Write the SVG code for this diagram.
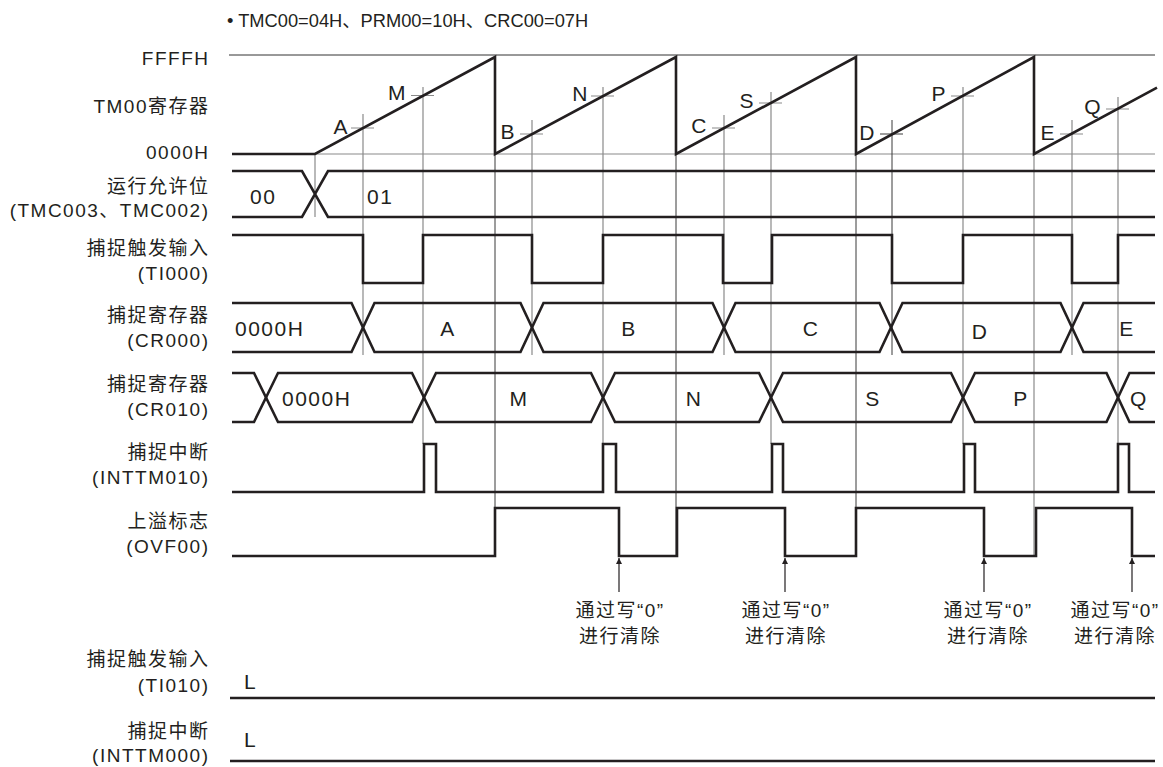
<svg xmlns="http://www.w3.org/2000/svg" width="1163" height="767" viewBox="0 0 1163 767">
<style>
  .lbl{font-family:"Liberation Sans","Noto Sans CJK SC",sans-serif;font-size:19px;letter-spacing:1.5px;fill:#231f20;text-anchor:end}
  .t{font-family:"Liberation Sans","Noto Sans CJK SC",sans-serif;font-size:21px;letter-spacing:1.5px;fill:#231f20}
  .n{font-family:"Liberation Sans","Noto Sans CJK SC",sans-serif;font-size:19px;letter-spacing:1.5px;fill:#231f20;text-anchor:middle}
  .c{text-anchor:middle}
  .e{text-anchor:end}
  .sig{fill:none;stroke:#231f20;stroke-width:2.6;stroke-linejoin:miter}
  .thin{fill:none;stroke:#333;stroke-width:1}
  .grid{fill:none;stroke:#8a8a8a;stroke-width:1.2}
  .drop{fill:none;stroke:#3a3a3a;stroke-width:1}
  .arr{fill:none;stroke:#231f20;stroke-width:1.2}
</style>
<defs>
  <marker id="ah" viewBox="0 0 10 10" refX="10" refY="5" markerWidth="12" markerHeight="6" markerUnits="userSpaceOnUse" orient="auto">
    <path d="M0,0 L10,5 L0,10 z" fill="#231f20"/>
  </marker>
</defs>
<rect width="1163" height="767" fill="#fff"/>

<text x="227" y="27" font-family="Liberation Sans, Noto Sans CJK SC, sans-serif" font-size="18.3" fill="#231f20">• TMC00=04H、PRM00=10H、CRC00=07H</text>

<!-- left labels -->
<g id="labels">
  <text class="lbl" x="209.5" y="65">FFFFH</text>
  <text class="lbl" x="209.5" y="113">TM00寄存器</text>
  <text class="lbl" x="209.5" y="159">0000H</text>
  <text class="lbl" x="209.5" y="193">运行允许位</text>
  <text class="lbl" x="209.5" y="217">(TMC003、TMC002)</text>
  <text class="lbl" x="209.5" y="255">捕捉触发输入</text>
  <text class="lbl" x="209.5" y="280">(TI000)</text>
  <text class="lbl" x="209.5" y="322">捕捉寄存器</text>
  <text class="lbl" x="209.5" y="347">(CR000)</text>
  <text class="lbl" x="209.5" y="391">捕捉寄存器</text>
  <text class="lbl" x="209.5" y="416">(CR010)</text>
  <text class="lbl" x="209.5" y="459">捕捉中断</text>
  <text class="lbl" x="209.5" y="484">(INTTM010)</text>
  <text class="lbl" x="209.5" y="528">上溢标志</text>
  <text class="lbl" x="209.5" y="553">(OVF00)</text>
  <text class="lbl" x="209.5" y="666">捕捉触发输入</text>
  <text class="lbl" x="209.5" y="692">(TI010)</text>
  <text class="lbl" x="209.5" y="738">捕捉中断</text>
  <text class="lbl" x="209.5" y="762">(INTTM000)</text>
</g>

<!-- guide lines -->
<g id="guides">
  <line class="thin" x1="229" y1="55" x2="1155" y2="55"/>
  <line class="grid" x1="315" y1="154" x2="1155" y2="154"/>
  <line class="grid" x1="315" y1="154" x2="315" y2="217"/>
  <line class="drop" x1="495" y1="57" x2="495" y2="556"/>
  <line class="drop" x1="676" y1="57" x2="676" y2="556"/>
  <line class="drop" x1="856" y1="57" x2="856" y2="556"/>
  <line class="grid" x1="1034" y1="57" x2="1034" y2="556"/>
  <!-- capture crosses (CR000: A B C D E) -->
  <path class="grid" d="M363,114 V355 M351,128 H374"/>
  <path class="grid" d="M532,120 V355 M520,134 H543"/>
  <path class="grid" d="M724,115 V355 M712,128 H735"/>
  <path class="drop" d="M892,120 V355 M880,134 H903"/>
  <path class="grid" d="M1072,120 V355 M1060,134 H1083"/>
  <!-- capture crosses (CR010: M N S P Q) -->
  <path class="grid" d="M423,87 V444 M411,95.5 H434"/>
  <path class="grid" d="M603,87 V444 M591,96 H614"/>
  <path class="grid" d="M771,92 V444 M759,103 H782"/>
  <path class="grid" d="M963,87 V444 M951,96 H974"/>
  <path class="grid" d="M1118,97 V444 M1106,109 H1129"/>
</g>

<!-- TM00 counter -->
<g id="tm00">
  <path class="sig" d="M232,154 H315 L495,57 V154 L676,57 V154 L856,57 V154 L1034,57 V154 L1157,87.6"/>
  <text class="t e" x="349" y="134">A</text>
  <text class="t e" x="407" y="100">M</text>
  <text class="t e" x="516" y="139">B</text>
  <text class="t e" x="589" y="101">N</text>
  <text class="t e" x="708" y="133">C</text>
  <text class="t e" x="755" y="108">S</text>
  <text class="t e" x="876" y="140">D</text>
  <text class="t e" x="947" y="101">P</text>
  <text class="t e" x="1056" y="140">E</text>
  <text class="t e" x="1102" y="114">Q</text>
</g>

<!-- enable bits -->
<g id="enable">
  <path class="sig" d="M232,171 H302 L328,217 H1155 M232,217 H302 L328,171 H1155"/>
  <text class="t" x="250" y="204">00</text>
  <text class="t" x="367" y="204">01</text>
</g>

<!-- TI000 -->
<g id="ti000">
  <path class="sig" d="M232,235 H363 V283 H423 V235 H532 V283 H603 V235 H723 V283 H772 V235 H892 V283 H963 V235 H1072 V283 H1118 V235 H1155"/>
</g>

<!-- CR000 -->
<g id="cr000">
  <path class="sig" d="M232,303 H351.5 L363,327.5 L351.5,352 H232"/>
  <path class="sig" d="M363,327.5 L374.5,303 H520.5 L532,327.5 L520.5,352 H374.5 Z"/>
  <path class="sig" d="M532,327.5 L543.5,303 H712.5 L724,327.5 L712.5,352 H543.5 Z"/>
  <path class="sig" d="M724,327.5 L735.5,303 H879.5 L891,327.5 L879.5,352 H735.5 Z"/>
  <path class="sig" d="M891,327.5 L902.5,303 H1060.5 L1072,327.5 L1060.5,352 H902.5 Z"/>
  <path class="sig" d="M1155,303 H1083.5 L1072,327.5 L1083.5,352 H1155"/>
  <text class="t" x="235" y="336">0000H</text>
  <text class="t c" x="448" y="336">A</text>
  <text class="t c" x="629" y="336">B</text>
  <text class="t c" x="811" y="336">C</text>
  <text class="t c" x="980" y="339">D</text>
  <text class="t c" x="1127" y="336">E</text>
</g>

<!-- CR010 -->
<g id="cr010">
  <path class="sig" d="M232,373 H254 L266,397.5 L254,422 H232"/>
  <path class="sig" d="M266,397.5 L278,373 H412 L424,397.5 L412,422 H278 Z"/>
  <path class="sig" d="M424,397.5 L436,373 H591 L603,397.5 L591,422 H436 Z"/>
  <path class="sig" d="M603,397.5 L615,373 H759 L771,397.5 L759,422 H615 Z"/>
  <path class="sig" d="M771,397.5 L783,373 H951 L963,397.5 L951,422 H783 Z"/>
  <path class="sig" d="M963,397.5 L975,373 H1106.5 L1118,397.5 L1106.5,422 H975 Z"/>
  <path class="sig" d="M1155,373 H1129.5 L1118,397.5 L1129.5,422 H1155"/>
  <text class="t" x="282" y="406">0000H</text>
  <text class="t c" x="519" y="406">M</text>
  <text class="t c" x="694" y="406">N</text>
  <text class="t c" x="873" y="406">S</text>
  <text class="t c" x="1021" y="406">P</text>
  <text class="t c" x="1139" y="406">Q</text>
</g>

<!-- INTTM010 -->
<g id="inttm010">
  <path class="sig" d="M232,492 H424 V444 H436 V492 H603 V444 H616 V492 H772 V444 H783 V492 H964 V444 H975 V492 H1118 V444 H1129 V492 H1155"/>
</g>

<!-- OVF00 -->
<g id="ovf00">
  <path class="sig" d="M232,556 H495 V508 H619 V556 H677 V508 H785 V556 H856 V508 H984 V556 H1036 V508 H1132 V556 H1155"/>
</g>

<!-- clear annotations -->
<g id="connectors">
  <line class="arr" x1="619" y1="592" x2="619" y2="558" marker-end="url(#ah)"/>
  <line class="arr" x1="785" y1="592" x2="785" y2="558" marker-end="url(#ah)"/>
  <line class="arr" x1="984" y1="592" x2="984" y2="558" marker-end="url(#ah)"/>
  <line class="arr" x1="1132" y1="592" x2="1132" y2="558" marker-end="url(#ah)"/>
</g>
<g id="notes">
  <text class="n" x="620" y="617">通过写“0”</text>
  <text class="n" x="620" y="643">进行清除</text>
  <text class="n" x="786" y="617">通过写“0”</text>
  <text class="n" x="786" y="643">进行清除</text>
  <text class="n" x="988" y="617">通过写“0”</text>
  <text class="n" x="988" y="643">进行清除</text>
  <text class="n" x="1115" y="617">通过写“0”</text>
  <text class="n" x="1115" y="643">进行清除</text>
</g>

<!-- TI010 / INTTM000 -->
<g id="ti010">
  <line class="sig" x1="230" y1="698" x2="1155" y2="698"/>
  <text class="t" x="244" y="689">L</text>
</g>
<g id="inttm000">
  <line class="sig" x1="230" y1="761" x2="1155" y2="761"/>
  <text class="t" x="244" y="747">L</text>
</g>
</svg>
